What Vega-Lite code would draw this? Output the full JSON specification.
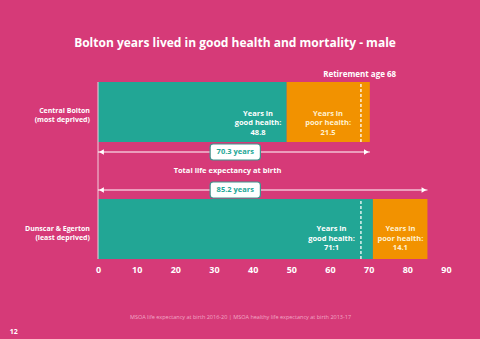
{
  "$schema": "https://vega.github.io/schema/vega-lite/v6.json",
  "autosize": {"type": "none"},
  "width": 348,
  "height": 200,
  "padding": {"left": 98, "top": 60, "right": 34, "bottom": 79},
  "background": "#d63a78",
  "config": {
    "view": {"stroke": null},
    "font": "Open Sans",
    "text": {"lineBreak": "\n"},
    "axisX": {
      "labelOverlap": false, "labelBound": false, "labelFlush": false,
      "domain": false, "ticks": false, "grid": false
    }
  },
  "title": {
    "text": "Bolton years lived in good health and mortality - male",
    "color": "white",
    "fontSize": 12,
    "fontWeight": "bold",
    "font": "Open Sans",
    "anchor": "middle",
    "dx": -37,
    "offset": 10
  },
  "datasets": {
    "bars": [
      {"row": "Central Bolton", "kind": "good", "start": 0, "end": 48.8, "lo": 118, "hi": 178},
      {"row": "Central Bolton", "kind": "poor", "start": 48.8, "end": 70.3, "lo": 118, "hi": 178},
      {"row": "Dunscar & Egerton", "kind": "good", "start": 0, "end": 71.1, "lo": 1, "hi": 61},
      {"row": "Dunscar & Egerton", "kind": "poor", "start": 71.1, "end": 85.2, "lo": 1, "hi": 61}
    ],
    "goodText": [
      {"x": 41.4, "y": 146.5, "label": "Years in\ngood health:\n48.8"},
      {"x": 60.4, "y": 31, "label": "Years in\ngood health:\n71:1"}
    ],
    "poorText": [
      {"x": 59.5, "y": 146.5, "label": "Years in\npoor health:\n21.5"},
      {"x": 78.2, "y": 31, "label": "Years in\npoor health:\n14.1"}
    ],
    "rowLabels": [
      {"x": -2.1, "y": 149.3, "label": "Central Bolton\n(most deprived)"},
      {"x": -2.1, "y": 31, "label": "Dunscar & Egerton\n(least deprived)"}
    ],
    "retire": [
      {"x": 68, "lo": 118, "hi": 178},
      {"x": 68, "lo": 1, "hi": 61}
    ],
    "arrows": [
      {"start": 0, "end": 70.3, "y": 108, "boxLo": 100, "boxHi": 116, "b0": 29.0, "b1": 42.0, "label": "70.3 years"},
      {"start": 0, "end": 85.2, "y": 70, "boxLo": 62, "boxHi": 78, "b0": 29.0, "b1": 42.0, "label": "85.2 years"}
    ],
    "headsLeft": [
      {"x": 0.9, "y": 108},
      {"x": 0.9, "y": 70}
    ],
    "headsRight": [
      {"x": 69.4, "y": 108},
      {"x": 84.3, "y": 70}
    ],
    "totalNote": [
      {"x": 33.5, "y": 89.3, "label": "Total life expectancy at birth"}
    ],
    "retireNote": [
      {"x": 77.1, "y": 185, "label": "Retirement age 68"}
    ],
    "axisLine": [{"x": 0, "lo": 1, "hi": 178}],
    "page": [{"x": -22.8, "y": -72, "label": "12"}]
  },
  "encoding": {
    "x": {
      "type": "quantitative",
      "scale": {"domain": [0, 90], "nice": false},
      "axis": {
        "values": [0, 10, 20, 30, 40, 50, 60, 70, 80, 90],
        "labelOverlap": false, "labelBound": false, "labelFlush": false,
        "labelColor": "white", "labelFontWeight": "bold", "labelFontSize": 9,
        "labelPadding": 5, "labelFont": "Open Sans",
        "title": "MSOA life expectancy at birth 2016-20 | MSOA healthy life expectancy at birth 2013-17",
        "titleColor": "#f2a9c6", "titleFontSize": 5.5, "titleFontWeight": "normal",
        "titlePadding": 40, "titleX": 142, "titleAlign": "center", "titleFont": "Open Sans"
      }
    },
    "y": {"type": "quantitative", "scale": {"domain": [0, 200], "nice": false, "zero": false}, "axis": null}
  },
  "layer": [
    {
      "data": {"name": "bars"},
      "mark": {"type": "rect"},
      "encoding": {
        "x": {"field": "start", "type": "quantitative"},
        "x2": {"field": "end"},
        "y": {"field": "lo", "type": "quantitative"},
        "y2": {"field": "hi"},
        "color": {"field": "kind", "type": "nominal", "scale": {"domain": ["good", "poor"], "range": ["#22a695", "#f29200"]}, "legend": null}
      }
    },
    {
      "data": {"name": "axisLine"},
      "mark": {"type": "rule", "color": "#f1cfdc", "strokeWidth": 1},
      "encoding": {
        "x": {"field": "x", "type": "quantitative"},
        "y": {"field": "lo", "type": "quantitative"},
        "y2": {"field": "hi"}
      }
    },
    {
      "data": {"name": "retire"},
      "mark": {"type": "rule", "color": "white", "strokeWidth": 1.3, "strokeDash": [3, 2]},
      "encoding": {
        "x": {"field": "x", "type": "quantitative"},
        "y": {"field": "lo", "type": "quantitative"},
        "y2": {"field": "hi"}
      }
    },
    {
      "data": {"name": "goodText"},
      "mark": {"type": "text", "fontWeight": "bold", "fontSize": 7.5, "lineHeight": 9.5, "align": "center", "baseline": "middle", "color": "#ffffff"},
      "encoding": {
        "x": {"field": "x", "type": "quantitative"},
        "y": {"field": "y", "type": "quantitative"},
        "text": {"field": "label"}
      }
    },
    {
      "data": {"name": "poorText"},
      "mark": {"type": "text", "fontWeight": "bold", "fontSize": 7.5, "lineHeight": 9.5, "align": "center", "baseline": "middle", "color": "#fff1d2"},
      "encoding": {
        "x": {"field": "x", "type": "quantitative"},
        "y": {"field": "y", "type": "quantitative"},
        "text": {"field": "label"}
      }
    },
    {
      "data": {"name": "rowLabels"},
      "mark": {"type": "text", "fontWeight": "bold", "fontSize": 7, "lineHeight": 9, "align": "right", "baseline": "middle", "color": "white"},
      "encoding": {
        "x": {"field": "x", "type": "quantitative"},
        "y": {"field": "y", "type": "quantitative"},
        "text": {"field": "label"}
      }
    },
    {
      "data": {"name": "arrows"},
      "mark": {"type": "rule", "color": "white", "strokeWidth": 1.2},
      "encoding": {
        "x": {"field": "start", "type": "quantitative"},
        "x2": {"field": "end"},
        "y": {"field": "y", "type": "quantitative"}
      }
    },
    {
      "data": {"name": "headsLeft"},
      "mark": {"type": "point", "filled": true, "color": "white", "size": 30, "opacity": 1, "shape": "triangle-left"},
      "encoding": {
        "x": {"field": "x", "type": "quantitative"},
        "y": {"field": "y", "type": "quantitative"}
      }
    },
    {
      "data": {"name": "headsRight"},
      "mark": {"type": "point", "filled": true, "color": "white", "size": 30, "opacity": 1, "shape": "triangle-right"},
      "encoding": {
        "x": {"field": "x", "type": "quantitative"},
        "y": {"field": "y", "type": "quantitative"}
      }
    },
    {
      "data": {"name": "arrows"},
      "mark": {"type": "rect", "fill": "white", "stroke": "#3f968e", "strokeWidth": 1.2, "cornerRadius": 3},
      "encoding": {
        "x": {"field": "b0", "type": "quantitative"},
        "x2": {"field": "b1"},
        "y": {"field": "boxLo", "type": "quantitative"},
        "y2": {"field": "boxHi"}
      }
    },
    {
      "data": {"name": "arrows"},
      "mark": {"type": "text", "fontWeight": "bold", "fontSize": 7.5, "color": "#22a695", "align": "center", "baseline": "middle"},
      "encoding": {
        "x": {"datum": 35.5, "type": "quantitative"},
        "y": {"field": "y", "type": "quantitative"},
        "text": {"field": "label"}
      }
    },
    {
      "data": {"name": "totalNote"},
      "mark": {"type": "text", "fontWeight": "bold", "fontSize": 7.5, "color": "white", "baseline": "middle", "align": "center"},
      "encoding": {
        "x": {"field": "x", "type": "quantitative"},
        "y": {"field": "y", "type": "quantitative"},
        "text": {"field": "label"}
      }
    },
    {
      "data": {"name": "retireNote"},
      "mark": {"type": "text", "fontWeight": "bold", "fontSize": 8, "color": "white", "baseline": "middle", "align": "right"},
      "encoding": {
        "x": {"field": "x", "type": "quantitative"},
        "y": {"field": "y", "type": "quantitative"},
        "text": {"field": "label"}
      }
    },
    {
      "data": {"name": "page"},
      "mark": {"type": "text", "fontWeight": "bold", "fontSize": 7, "color": "white", "align": "left", "baseline": "middle"},
      "encoding": {
        "x": {"field": "x", "type": "quantitative"},
        "y": {"field": "y", "type": "quantitative"},
        "text": {"field": "label"}
      }
    }
  ]
}
